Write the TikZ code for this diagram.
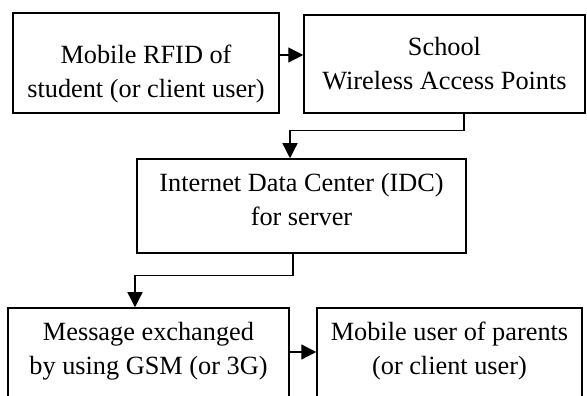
\documentclass[tikz,border=0pt]{standalone}
\usepackage{fontspec}
\setmainfont{Liberation Serif}
\usetikzlibrary{arrows.meta}
\tikzset{
	flowbox/.style={draw, line width=1.5pt, inner sep=0pt, minimum height=#1},
	flowbox/.default=100pt,
	flowtext/.style={inner sep=0pt, align=center, font=\fontsize{26.3}{34}\selectfont},
	flowarrow/.style={line width=1.3pt, -{Triangle[length=15pt,width=15pt]}}
}

\begin{document}
\begin{tikzpicture}[x=1pt, y=1pt]
			%%%%% START %%%%%
			\useasboundingbox (0, 0) rectangle (587, 396);
			
			\node[flowbox, minimum width=266pt] (rfid) at (146, 333) {};
			\node[flowbox=98pt, minimum width=281pt] (wap) at (444.5, 332) {};
			\node[flowbox=94pt, minimum width=329pt] (idc) at (301.5, 190) {};
			\node[flowbox, minimum width=281pt] (gsm) at (148.5, 38) {};
			\node[flowbox, minimum width=265pt] (parent) at (449.5, 38) {};
			
			\node[flowtext] (rfidtext) at ([yshift=-11pt]rfid.center) {Mobile RFID of\\student (or client user)};
			\node[flowtext] (waptext) at (wap.center) {School\\Wireless Access Points};
			\node[flowtext] (idctext) at ([yshift=6pt]idc.center) {Internet Data Center (IDC)\\for server};
			\node[flowtext] (gsmtext) at ([yshift=7pt]gsm.center) {Message exchanged\\by using GSM (or 3G)};
			\node[flowtext] (parenttext) at ([yshift=7pt]parent.center) {Mobile user of parents\\(or client user)};
			
			\draw[flowarrow] ([yshift=8pt]rfid.east) -- ([yshift=8pt]rfid.east -| wap.west);
			\draw[flowarrow] ([xshift=19.5pt]wap.south) -- ++(0, -17) -| ([xshift=-11.5pt]idc.north);
			\draw[flowarrow] ([xshift=-8.5pt]idc.south) -- ++(0, -22) -| ([xshift=-13.5pt]gsm.north);
			\draw[flowarrow] ([yshift=6pt]gsm.east) -- ([yshift=6pt]gsm.east -| parent.west);
			
			%%%%% END %%%%%
\end{tikzpicture}
\end{document}
